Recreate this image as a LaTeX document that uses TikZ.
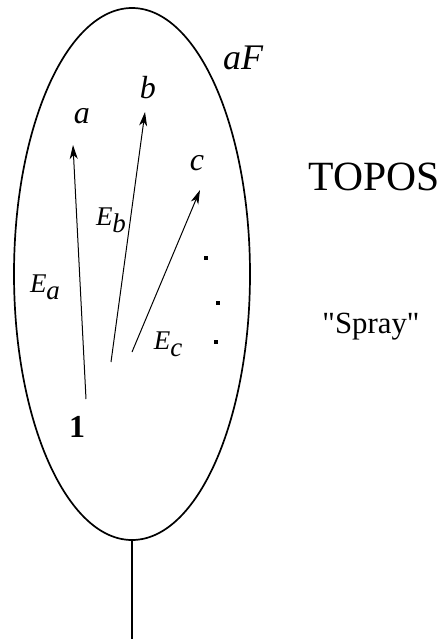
\documentclass[tikz,border=0pt]{standalone}
\usepackage{fontspec}
\setmainfont{Liberation Serif}
\newfontfamily\rawfont{Liberation Serif}[Ligatures=TeXOff]
\usetikzlibrary{arrows.meta}

\newcommand{\Esub}[1]{E\raisebox{-3.5pt}{#1}}

\begin{document}
\begin{tikzpicture}[x=0.5pt,y=-0.5pt,
    spoke/.style={line width=0.5pt, -{Stealth[length=7pt,width=4pt,inset=2pt]}},
    pt/.style={font=\fontsize{16}{18}\selectfont\itshape},
    edge/.style={font=\fontsize{13.5}{16}\selectfont\itshape}]
    \useasboundingbox (0,0) rectangle (439,639);
    % the object aF
    \draw[line width=0.85pt] (132,274) ellipse (118 and 266);
    \coordinate (bot) at (132,540);
    \coordinate (stem) at (132,639);
    \draw[line width=0.75pt] (bot) -- (stem);
    \node[font=\fontsize{18}{20}\selectfont\itshape] (aF) at (243,58) {aF};
    % points
    \node[pt] (a) at (82,116) {a};
    \node[pt] (b) at (148,88) {b};
    \node[pt] (c) at (197,163) {c};
    \node[font=\fontsize{16}{18}\selectfont\bfseries] (one) at (77,427) {1};
    % spray of arrows out of 1
    \coordinate (sa) at (86,399);
    \coordinate (ta) at (73,145);
    \coordinate (sb) at (111,362);
    \coordinate (tb) at (145,112);
    \coordinate (sc) at (132,352);
    \coordinate (tc) at (200,190);
    \draw[spoke] (sa) -- (ta);
    \draw[spoke] (sb) -- (tb);
    \draw[spoke] (sc) -- (tc);
    \node[edge] (Ea) at (45,287) {\Esub{a}};
    \node[edge] (Eb) at (111,220) {\Esub{b}};
    \node[edge] (Ec) at (168,344) {\Esub{c}};
    \foreach \p in {(206,258),(218,303),(216,342)}
        \fill \p +(-2,-2) rectangle +(2,2);
    % right hand text
    \node[font=\fontsize{20.8}{24}\selectfont] (topos) at (374,177) {TOPOS};
    \node[font=\fontsize{15.4}{18}\rawfont] (spray) at (371,327) {"Spray"};
\end{tikzpicture}
\end{document}
